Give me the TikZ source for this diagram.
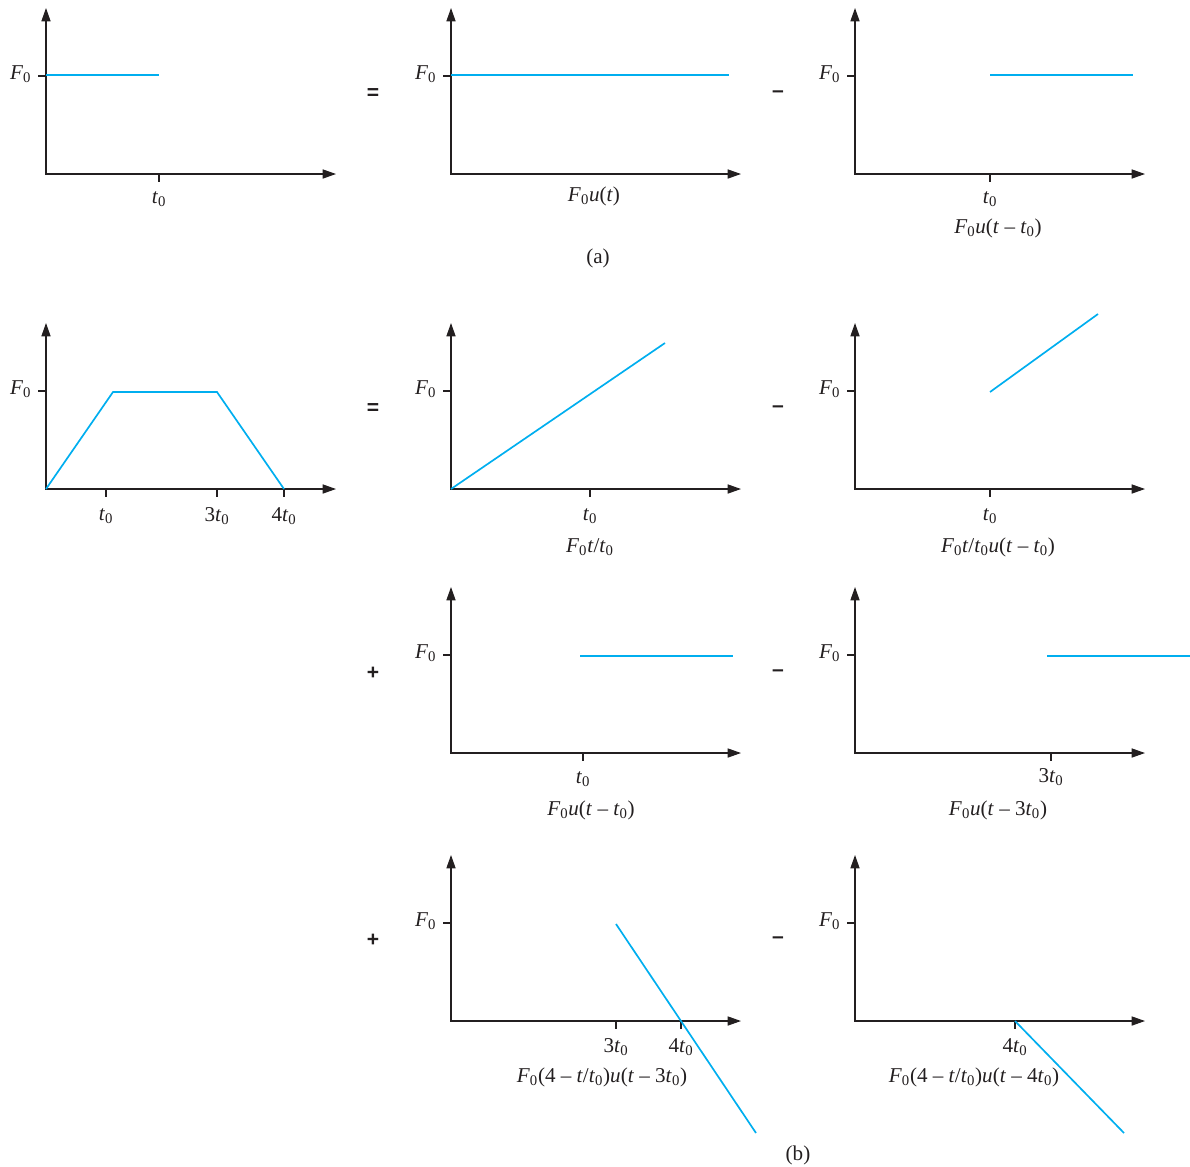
\documentclass[tikz,border=0pt]{standalone}
\usepackage{fontspec}
\setmainfont{Liberation Serif}
\setsansfont{Liberation Sans}
\usetikzlibrary{arrows.meta}

\definecolor{sigcyan}{RGB}{0,174,239}
\definecolor{axisgray}{RGB}{35,31,32}

\newcommand{\Fo}{\textit{F}\textsubscript{0}}
\newcommand{\tzero}{\textit{t}\textsubscript{0}}

\tikzset{
  axis/.style={draw=axisgray, line width=0.8pt, {Triangle[length=9.5pt,width=6.5pt]}-{Triangle[length=9.5pt,width=6.5pt]}},
  sig/.style={draw=sigcyan, line width=1.2pt},
  lbl/.style={font=\fontsize{15}{18}\selectfont, text=axisgray, inner sep=1pt},
  oper/.style={font=\sffamily\bfseries\fontsize{15}{18}\selectfont, text=axisgray}
}

\begin{document}
\begin{tikzpicture}[x=0.025cm, y=-0.025cm]
\useasboundingbox (0,0) rectangle (1190,1166);

% Axes with F0 mark
\foreach \ox/\oy in {46/174, 451/174, 855/174, 46/489, 451/489, 855/489,
                     451/753, 855/753, 451/1021, 855/1021} {
    \draw[axis] (\ox,\oy-166) |- (\ox+290,\oy);
    \draw[axisgray, line width=0.8pt] (\ox-8,\oy-98) -- (\ox,\oy-98);
    \node[lbl, anchor=east] at (\ox-13,\oy-100) {\Fo};
}

% Ticks on the time axes
\foreach \tx/\ty in {159/174, 990/174, 106/489, 217/489, 284/489, 590/489,
                     990/489, 583/753, 1051/753, 616/1021, 681/1021, 1015/1021} {
    \draw[axisgray, line width=0.8pt] (\tx,\ty) -- (\tx,\ty+8);
}

% (a) step pulse
\draw[sig] (46,75) -- (159,75);
\draw[sig] (451,75) -- (729,75);
\draw[sig] (990,75) -- (1133,75);

% (b) trapezoid and its parts
\draw[sig] (46,489) -- (113,392) -- (217,392) -- (284,489);
\draw[sig] (451,489) -- (665,343);
\draw[sig] (990,392) -- (1098,314);
\draw[sig] (580,656) -- (733,656);
\draw[sig] (1047,656) -- (1190,656);
\draw[sig] (616,924) -- (756,1133);
\draw[sig] (1015,1021) -- (1124,1133);

% Tick labels
\node[lbl] (ta1) at (159,199) {\tzero};
\node[lbl] (ta3) at (990,199) {\tzero};
\node[lbl] (tb1) at (106,516) {\tzero};
\node[lbl] (tb2) at (217,516) {3\tzero};
\node[lbl] (tb3) at (284,516) {4\tzero};
\node[lbl] (tc1) at (590,516) {\tzero};
\node[lbl] (td1) at (990,516) {\tzero};
\node[lbl] (te1) at (583,779) {\tzero};
\node[lbl] (tf1) at (1051,777) {3\tzero};
\node[lbl] (tg1) at (616,1047) {3\tzero};
\node[lbl] (tg2) at (681,1047) {4\tzero};
\node[lbl] (th1) at (1015,1047) {4\tzero};

% Captions
\node[lbl] (ca2) at (594,196) {\Fo\textit{u}(\textit{t})};
\node[lbl] (ca3) at (998,228) {\Fo\textit{u}(\textit{t} – \tzero)};
\node[lbl] (parta) at (598,258) {(a)};
\node[lbl] (cc) at (590,547) {\Fo\textit{t}/\tzero};
\node[lbl] (cd) at (998,547) {\Fo\textit{t}/\tzero\textit{u}(\textit{t} – \tzero)};
\node[lbl] (ce) at (591,810) {\Fo\textit{u}(\textit{t} – \tzero)};
\node[lbl] (cf) at (998,810) {\Fo\textit{u}(\textit{t} – 3\tzero)};
\node[lbl] (cg) at (602,1077) {\Fo(4 – \textit{t}/\tzero)\textit{u}(\textit{t} – 3\tzero)};
\node[lbl] (ch) at (974,1077) {\Fo(4 – \textit{t}/\tzero)\textit{u}(\textit{t} – 4\tzero)};
\node[lbl] (partb) at (798,1155) {(b)};

% Operators
\node[oper] (opa1) at (373,94) {=};
\node[oper] (opa2) at (778,94) {–};
\node[oper] (opb1) at (373,409) {=};
\node[oper] (opb2) at (778,409) {–};
\node[oper] (opc1) at (373,673) {+};
\node[oper] (opc2) at (778,673) {–};
\node[oper] (opd1) at (373,940) {+};
\node[oper] (opd2) at (778,940) {–};
\end{tikzpicture}
\end{document}
